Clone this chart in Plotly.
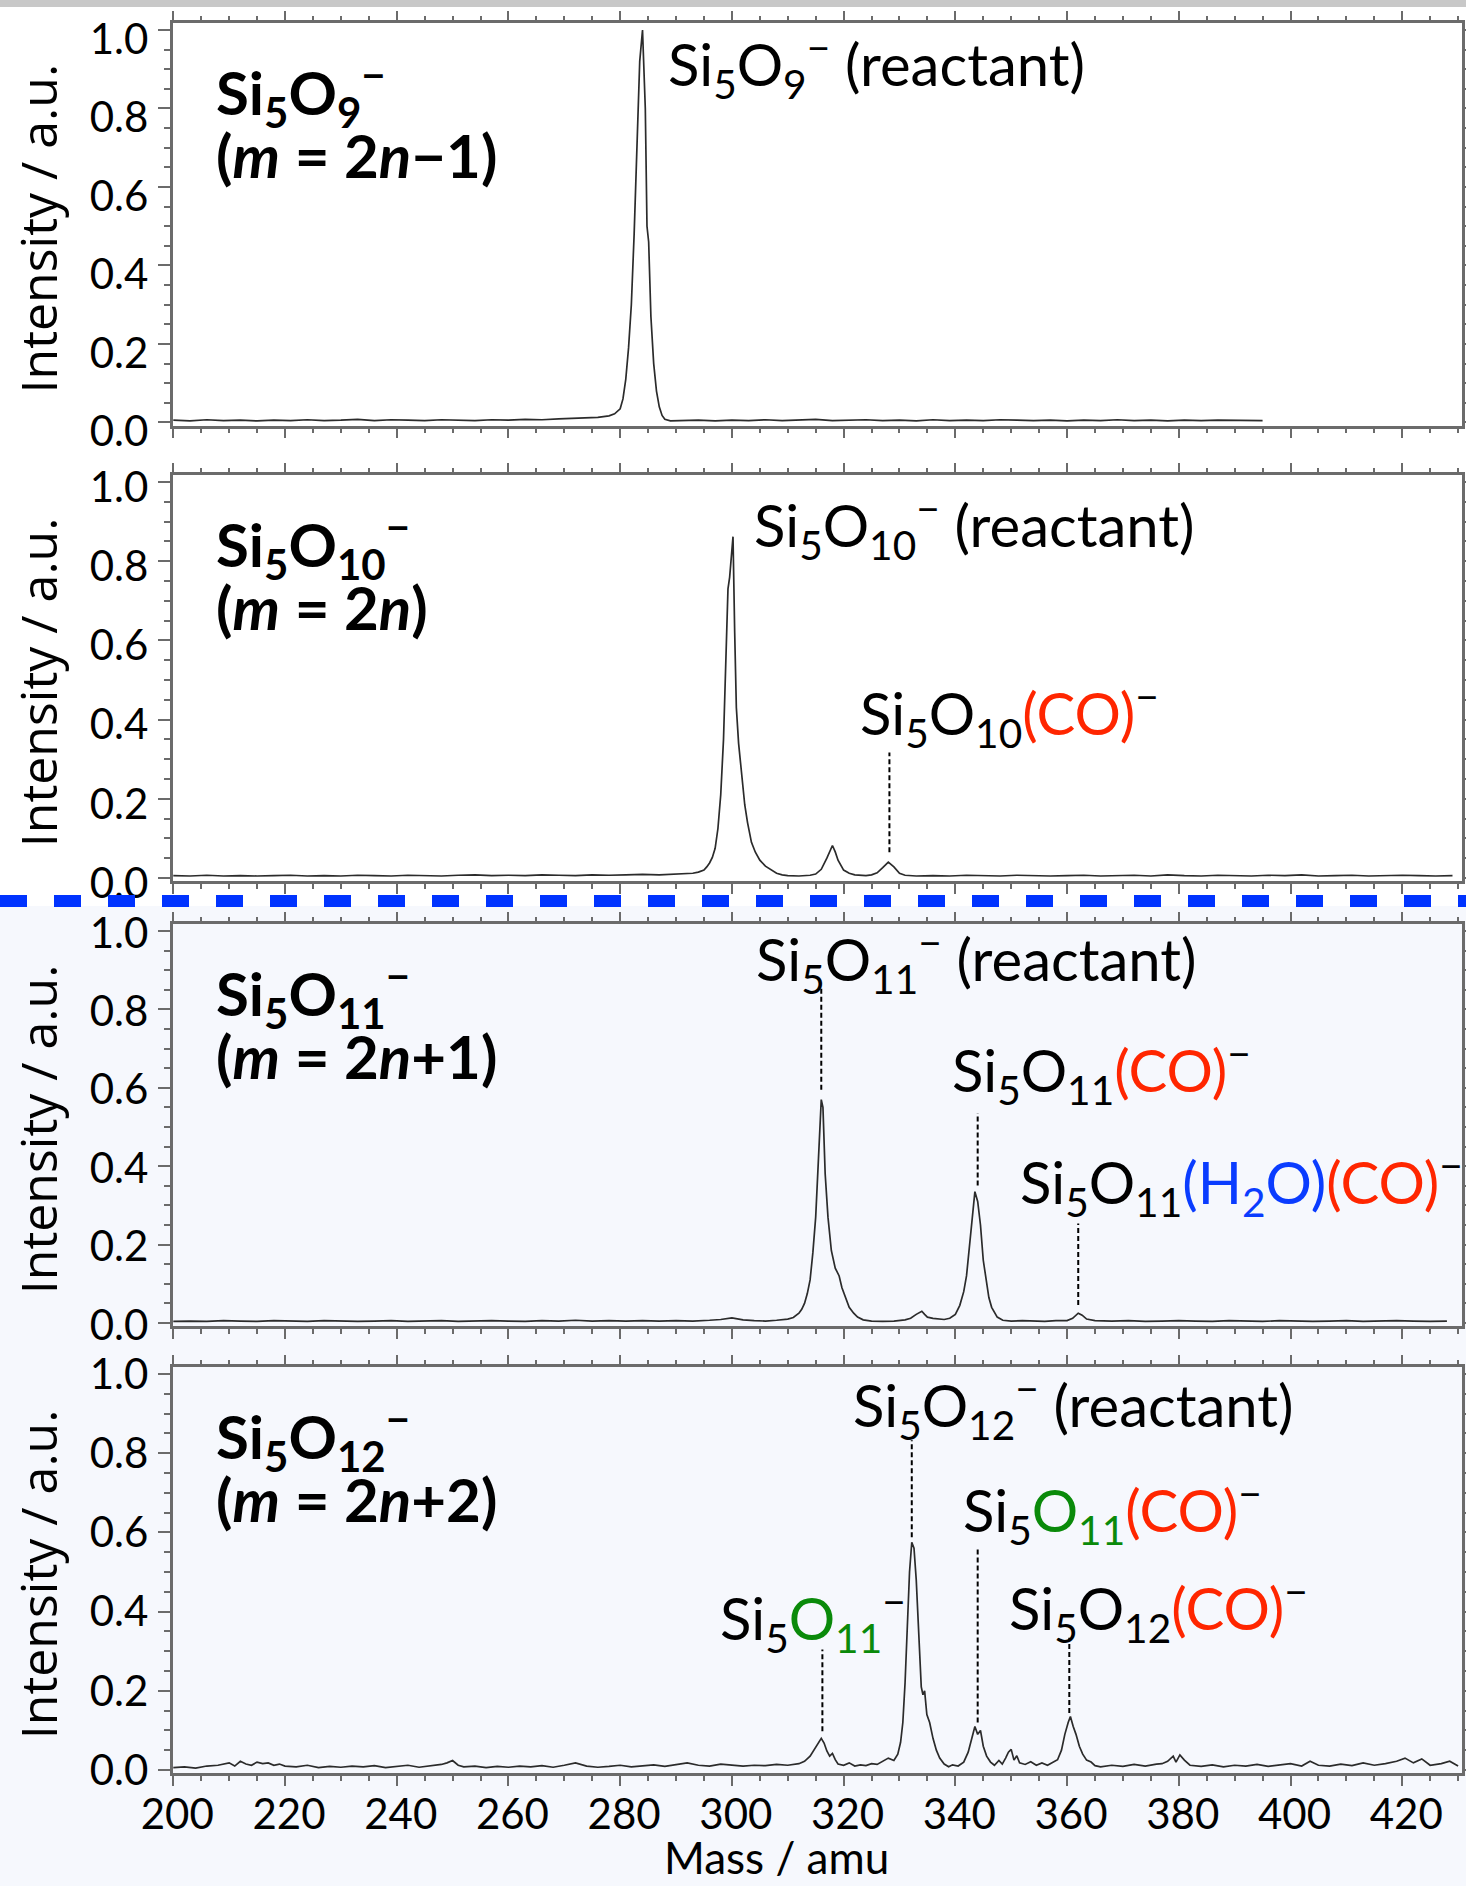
import plotly.graph_objects as go

W, H = 1466, 1886

# ---------------- data ----------------
mass_p1 = [200, 203, 206, 209, 212, 215, 218, 221, 224, 227,
           230, 233, 236, 239, 242, 245, 248, 251, 254, 257,
           260, 263, 266, 269, 272, 274, 276, 277, 278, 279,
           280, 280.5, 281, 281.5, 282, 282.5, 283, 283.5, 284, 284.5,
           284.8, 285.1, 285.5, 286, 286.5, 287, 287.5, 288, 289, 291,
           294, 297, 300, 303, 306, 309, 312, 315, 318, 321,
           324, 327, 330, 333, 336, 339, 342, 345, 348, 351,
           354, 357, 360, 363, 366, 369, 372, 375, 378, 381,
           384, 387, 390, 393, 395]
int_p1 = [0.006, 0.004, 0.007, 0.005, 0.006, 0.004, 0.006, 0.005, 0.007, 0.005,
          0.006, 0.008, 0.005, 0.007, 0.006, 0.005, 0.007, 0.006, 0.005, 0.007,
          0.006, 0.008, 0.007, 0.009, 0.010, 0.011, 0.013, 0.015, 0.017, 0.022,
          0.035, 0.060, 0.110, 0.190, 0.300, 0.480, 0.720, 0.920, 1.000, 0.800,
          0.500, 0.460, 0.270, 0.150, 0.080, 0.040, 0.018, 0.008, 0.004, 0.005,
          0.006, 0.004, 0.006, 0.005, 0.007, 0.005, 0.006, 0.008, 0.005, 0.006,
          0.007, 0.005, 0.006, 0.004, 0.007, 0.005, 0.006, 0.005, 0.007, 0.006,
          0.005, 0.006, 0.004, 0.006, 0.005, 0.007, 0.005, 0.006, 0.004, 0.006,
          0.005, 0.006, 0.005, 0.004, 0.005]

mass_p2 = [200, 203, 206, 209, 212, 215, 218, 221, 224, 227,
           230, 233, 236, 239, 242, 245, 248, 251, 254, 257,
           260, 263, 266, 269, 272, 275, 278, 281, 284, 287,
           289, 291, 293, 294, 295, 295.5, 296, 296.5, 297, 297.5,
           298, 298.5, 299, 299.3, 299.6, 300, 300.2, 300.5, 300.8, 301.2,
           301.8, 302.3, 302.8, 303.5, 304.2, 305, 306, 307, 308, 309,
           310, 312, 314, 315, 316, 317, 318, 318.5, 319, 320,
           321, 322, 324, 325, 326, 327, 328, 329, 330, 331,
           333, 336, 339, 342, 345, 348, 351, 354, 357, 360,
           363, 366, 369, 372, 375, 378, 381, 384, 387, 390,
           393, 396, 399, 402, 405, 408, 411, 414, 417, 420,
           423, 426, 429]
int_p2 = [0.006, 0.005, 0.007, 0.005, 0.006, 0.005, 0.006, 0.007, 0.005, 0.006,
          0.005, 0.007, 0.006, 0.005, 0.007, 0.006, 0.005, 0.007, 0.008, 0.006,
          0.007, 0.006, 0.008, 0.007, 0.006, 0.008, 0.007, 0.008, 0.009, 0.008,
          0.009, 0.010, 0.012, 0.015, 0.020, 0.028, 0.038, 0.052, 0.075, 0.125,
          0.210, 0.350, 0.600, 0.730, 0.760, 0.840, 0.862, 0.620, 0.430, 0.340,
          0.260, 0.185, 0.140, 0.090, 0.065, 0.045, 0.030, 0.020, 0.012, 0.008,
          0.006, 0.005, 0.007, 0.010, 0.022, 0.050, 0.082, 0.066, 0.045, 0.020,
          0.012, 0.008, 0.006, 0.008, 0.013, 0.026, 0.040, 0.028, 0.012, 0.007,
          0.005, 0.006, 0.005, 0.007, 0.006, 0.005, 0.007, 0.006, 0.005, 0.006,
          0.007, 0.005, 0.006, 0.007, 0.005, 0.008, 0.006, 0.005, 0.007, 0.006,
          0.005, 0.007, 0.006, 0.008, 0.005, 0.006, 0.007, 0.005, 0.006, 0.007,
          0.006, 0.005, 0.006]

mass_p3 = [200, 203, 206, 209, 212, 215, 218, 221, 224, 227,
           230, 233, 236, 239, 242, 245, 248, 251, 254, 257,
           260, 263, 266, 269, 272, 275, 278, 281, 284, 287,
           290, 293, 296, 298, 300, 302, 304, 306, 308, 310,
           311, 312, 312.5, 313, 313.5, 314, 314.5, 315, 315.5, 316,
           316.3, 316.7, 317.2, 317.8, 318.5, 319.2, 319.7, 320.3, 321, 321.8,
           322.5, 323.5, 325, 327, 329, 331, 332, 333, 334, 334.5,
           335, 336, 337, 338, 339, 340, 340.8, 341.5, 342, 342.5,
           343, 343.5, 344, 344.5, 345, 345.5, 346, 346.5, 347.5, 348.5,
           350, 352, 354, 356, 358, 360, 361, 362, 362.7, 363.5,
           365, 368, 371, 374, 377, 380, 383, 386, 389, 392,
           395, 398, 401, 404, 407, 410, 413, 416, 419, 422,
           425, 428]
int_p3 = [0.004, 0.005, 0.004, 0.006, 0.005, 0.004, 0.006, 0.005, 0.004, 0.006,
          0.005, 0.004, 0.005, 0.006, 0.004, 0.005, 0.006, 0.004, 0.005, 0.006,
          0.005, 0.004, 0.006, 0.005, 0.007, 0.005, 0.006, 0.005, 0.006, 0.005,
          0.006, 0.005, 0.007, 0.009, 0.013, 0.008, 0.006, 0.005, 0.007, 0.010,
          0.014, 0.025, 0.035, 0.050, 0.075, 0.110, 0.180, 0.270, 0.420, 0.570,
          0.550, 0.380, 0.270, 0.185, 0.140, 0.120, 0.090, 0.065, 0.040, 0.025,
          0.015, 0.008, 0.005, 0.004, 0.005, 0.008, 0.012, 0.022, 0.030, 0.022,
          0.015, 0.012, 0.010, 0.009, 0.012, 0.022, 0.045, 0.080, 0.120, 0.190,
          0.270, 0.335, 0.310, 0.250, 0.160, 0.110, 0.065, 0.040, 0.015, 0.007,
          0.005, 0.006, 0.005, 0.004, 0.006, 0.006, 0.012, 0.025, 0.020, 0.010,
          0.006, 0.005, 0.006, 0.004, 0.005, 0.006, 0.005, 0.004, 0.006, 0.005,
          0.004, 0.006, 0.005, 0.004, 0.005, 0.006, 0.004, 0.005, 0.006, 0.005,
          0.004, 0.005]

mass_p4 = [200, 202, 204, 206, 208, 210, 211, 212, 213, 214,
           215, 216, 217, 218, 219, 220, 222, 224, 226, 228,
           230, 232, 234, 236, 238, 240, 242, 244, 246, 248,
           249, 250, 251, 252, 254, 256, 258, 260, 262, 264,
           266, 268, 270, 272, 274, 276, 278, 280, 282, 284,
           286, 288, 290, 292, 294, 296, 298, 300, 302, 304,
           306, 308, 310, 312, 313, 314, 315, 316, 316.5, 317,
           317.5, 318, 318.5, 319, 320, 321, 322, 323, 324, 325,
           326, 327, 328, 329, 329.7, 330.2, 330.6, 331, 331.4, 331.8,
           332.2, 332.6, 333, 333.3, 333.6, 333.9, 334.2, 334.5, 334.9, 335.4,
           336, 336.6, 337.2, 338, 338.8, 339.5, 340.5, 341.5, 342.3, 343,
           343.5, 344, 344.5, 345, 345.6, 346.3, 347, 347.8, 348.4, 349,
           349.5, 350, 350.5, 351, 351.5, 352.5, 353.5, 354.5, 355.5, 356.5,
           357.5, 358.3, 359, 359.6, 360.2, 360.6, 361.1, 361.6, 362.2, 362.8,
           363.5, 364.3, 365, 366, 368, 370, 372, 374, 376, 377,
           378, 379, 379.5, 380.2, 381, 382, 384, 386, 388, 390,
           392, 394, 396, 398, 400, 402, 403.5, 405, 407, 409,
           411, 413, 415, 417, 419, 420.5, 422, 423.5, 425, 427,
           428.5, 430]
int_p4 = [0.006, 0.008, 0.005, 0.010, 0.012, 0.018, 0.010, 0.022, 0.015, 0.012,
          0.020, 0.016, 0.018, 0.012, 0.015, 0.010, 0.008, 0.012, 0.006, 0.009,
          0.007, 0.010, 0.008, 0.011, 0.006, 0.009, 0.012, 0.007, 0.010, 0.014,
          0.018, 0.024, 0.012, 0.008, 0.010, 0.006, 0.009, 0.007, 0.010, 0.008,
          0.011, 0.007, 0.012, 0.018, 0.010, 0.007, 0.009, 0.012, 0.008, 0.010,
          0.013, 0.009, 0.014, 0.018, 0.012, 0.010, 0.015, 0.013, 0.010, 0.012,
          0.011, 0.014, 0.012, 0.016, 0.022, 0.035, 0.058, 0.080, 0.068, 0.048,
          0.035, 0.042, 0.026, 0.015, 0.012, 0.018, 0.010, 0.013, 0.011, 0.016,
          0.014, 0.022, 0.030, 0.024, 0.040, 0.070, 0.120, 0.220, 0.380, 0.500,
          0.575, 0.560, 0.480, 0.400, 0.300, 0.210, 0.190, 0.200, 0.140, 0.120,
          0.080, 0.050, 0.030, 0.015, 0.008, 0.013, 0.010, 0.020, 0.045, 0.085,
          0.110, 0.090, 0.100, 0.060, 0.035, 0.020, 0.012, 0.024, 0.015, 0.030,
          0.045, 0.052, 0.025, 0.036, 0.018, 0.014, 0.021, 0.012, 0.018, 0.012,
          0.020, 0.026, 0.050, 0.090, 0.120, 0.135, 0.110, 0.090, 0.060, 0.040,
          0.025, 0.020, 0.011, 0.008, 0.012, 0.009, 0.014, 0.010, 0.015, 0.016,
          0.022, 0.035, 0.020, 0.038, 0.025, 0.012, 0.009, 0.013, 0.008, 0.012,
          0.010, 0.014, 0.009, 0.012, 0.016, 0.010, 0.022, 0.012, 0.010, 0.015,
          0.011, 0.018, 0.012, 0.016, 0.022, 0.030, 0.018, 0.028, 0.012, 0.016,
          0.022, 0.010]

for a, b in [(mass_p1, int_p1), (mass_p2, int_p2), (mass_p3, int_p3), (mass_p4, int_p4)]:
    assert len(a) == len(b), (len(a), len(b))

x_ticks = [200, 220, 240, 260, 280, 300, 320, 340, 360, 380, 400, 420]
y_ticks = [0.0, 0.2, 0.4, 0.6, 0.8, 1.0]

RED = "#FF2600"
BLUE = "#0A3CFF"
GREEN = "#0A8A0A"

def red(s):
    return "<span style='color:%s'>%s</span>" % (RED, s)

def blue(s):
    return "<span style='color:%s'>%s</span>" % (BLUE, s)

def green(s):
    return "<span style='color:%s'>%s</span>" % (GREEN, s)

MINUS = "<sup>−</sup>"

panel_titles = [
    ("<b>Si<sub>5</sub>O<sub>9</sub>" + MINUS + "</b>", "<b>(<i>m</i> = 2<i>n</i>−1)</b>"),
    ("<b>Si<sub>5</sub>O<sub>10</sub>" + MINUS + "</b>", "<b>(<i>m</i> = 2<i>n</i>)</b>"),
    ("<b>Si<sub>5</sub>O<sub>11</sub>" + MINUS + "</b>", "<b>(<i>m</i> = 2<i>n</i>+1)</b>"),
    ("<b>Si<sub>5</sub>O<sub>12</sub>" + MINUS + "</b>", "<b>(<i>m</i> = 2<i>n</i>+2)</b>"),
]

# peak labels: (panel, text, x_left [amu], y_center [intensity])
peak_labels = [
    (0, "Si<sub>5</sub>O<sub>9</sub>" + MINUS + " (reactant)", 288.2, 0.91),
    (1, "Si<sub>5</sub>O<sub>10</sub>" + MINUS + " (reactant)", 303.6, 0.89),
    (1, "Si<sub>5</sub>O<sub>10</sub>" + red("(CO)") + MINUS, 322.6, 0.414),
    (2, "Si<sub>5</sub>O<sub>11</sub>" + MINUS + " (reactant)", 304.0, 0.925),
    (2, "Si<sub>5</sub>O<sub>11</sub>" + red("(CO)") + MINUS, 339.0, 0.642),
    (2, "Si<sub>5</sub>O<sub>11</sub>" + blue("(H<sub>2</sub>O)") + red("(CO)") + MINUS, 351.3, 0.358),
    (3, "Si<sub>5</sub>O<sub>12</sub>" + MINUS + " (reactant)", 321.3, 0.92),
    (3, "Si<sub>5</sub>" + green("O<sub>11</sub>") + red("(CO)") + MINUS, 341.0, 0.655),
    (3, "Si<sub>5</sub>O<sub>12</sub>" + red("(CO)") + MINUS, 349.3, 0.407),
    (3, "Si<sub>5</sub>" + green("O<sub>11</sub>") + MINUS, 297.6, 0.382),
]

# dotted leader lines: (panel, mass, y_low, y_high)
leaders = [
    (1, 328.2, 0.065, 0.317),
    (2, 316.0, 0.595, 0.855),
    (2, 344.0, 0.351, 0.535),
    (2, 362.0, 0.046, 0.254),
    (3, 332.2, 0.588, 0.833),
    (3, 344.0, 0.120, 0.558),
    (3, 360.4, 0.144, 0.334),
    (3, 316.2, 0.098, 0.304),
]

# ---------------- layout geometry (pixels) ----------------
X_LEFT, X_RIGHT = 172.5, 1462.0
X_RANGE = [199.86, 430.7]
Y_RANGE = [-0.008, 1.017]
# pixel row of intensity 0.0 and 1.0 for each panel
panel_px = [(422.5, 30), (878, 482), (1323, 931), (1770, 1374)]
# vertical offset of the tick labels in each panel (pixels, downwards)
label_shift = [9, 5, 2, 0]

def ydomain(y0, y1):
    u = y0 - y1
    top = y0 - Y_RANGE[1] * u
    bot = y0 - Y_RANGE[0] * u
    return [1 - bot / H, 1 - top / H], top, bot

FONT = "Lato, 'Liberation Sans', Arial, sans-serif"
TITLE_FONT = "'Open Sans', 'Noto Sans', sans-serif"
FRAME = "#6b6b6b"

fig = go.Figure()
data = [(mass_p1, int_p1), (mass_p2, int_p2), (mass_p3, int_p3), (mass_p4, int_p4)]
for k, (m, v) in enumerate(data):
    sfx = "" if k == 0 else str(k + 1)
    fig.add_trace(go.Scatter(x=m, y=v, mode="lines",
                             line=dict(color="#2b2b2b", width=1.7),
                             xaxis="x" + sfx, yaxis="y" + sfx,
                             showlegend=False, hoverinfo="skip"))

layout = dict(width=W, height=H, margin=dict(l=0, r=0, t=0, b=0, pad=0),
              autosize=False,
              paper_bgcolor="white", plot_bgcolor="rgba(0,0,0,0)",
              showlegend=False, font=dict(family=FONT, color="black"))

annotations = []
shapes = []

# background: tinted lower half, grey bar on top, blue dashed divider
shapes.append(dict(type="rect", xref="paper", yref="paper", x0=0, x1=1,
                   y0=0, y1=1 - 906 / H, fillcolor="#F6F8FD", line=dict(width=0),
                   layer="below"))
shapes.append(dict(type="rect", xref="paper", yref="paper", x0=0, x1=1,
                   y0=1 - 7 / H, y1=1, fillcolor="#C8C8C8", line=dict(width=0),
                   layer="below"))
shapes.append(dict(type="line", xref="paper", yref="paper", x0=0, x1=1,
                   y0=1 - 901 / H, y1=1 - 901 / H,
                   line=dict(color="#0033FF", width=12, dash="27px,27px"),
                   layer="above"))

for k, (y0, y1) in enumerate(panel_px):
    sfx = "" if k == 0 else str(k + 1)
    dom, top, bot = ydomain(y0, y1)
    layout["xaxis" + sfx] = dict(
        domain=[X_LEFT / W, X_RIGHT / W], range=X_RANGE, anchor="y" + sfx,
        automargin=False,
        tickmode="array", tickvals=x_ticks, ticktext=[str(t) for t in x_ticks],
        showticklabels=(k == 3), ticks="outside", ticklen=10, tickwidth=2,
        tickcolor=FRAME, showline=True, linecolor=FRAME, linewidth=2.5,
        mirror="ticks", showgrid=False, zeroline=False,
        tickfont=dict(family=FONT, size=42, color="black"),
        ticklabelshift=4, ticklabelstandoff=-7, ticklabeloverflow="allow",
        minor=dict(dtick=5, tick0=200, ticks="outside", ticklen=5,
                   tickwidth=1.5, tickcolor=FRAME, showgrid=False),
    )
    layout["yaxis" + sfx] = dict(
        domain=dom, range=Y_RANGE, anchor="x" + sfx,
        automargin=False,
        tickmode="array", tickvals=y_ticks, ticktext=["%.1f" % t for t in y_ticks],
        ticks="outside", ticklen=12, tickwidth=2, tickcolor=FRAME,
        showline=True, linecolor=FRAME, linewidth=2.5, mirror="ticks",
        showgrid=False, zeroline=False,
        tickfont=dict(family=FONT, size=42, color="black"),
        ticklabelshift=label_shift[k], ticklabelstandoff=1, ticklabeloverflow="allow",
        minor=dict(dtick=0.05, tick0=0, ticks="outside", ticklen=6,
                   tickwidth=1.5, tickcolor=FRAME, showgrid=False),
    )
    # y axis title (rotated)
    yc = (top + bot) / 2 + 4
    annotations.append(dict(text="Intensity / a.u.", xref="paper", yref="paper",
                            x=38 / W, y=1 - yc / H, xanchor="center", yanchor="middle",
                            textangle=-90, showarrow=False,
                            font=dict(family=TITLE_FONT, size=50, color="black")))
    # panel title, two lines
    l1, l2 = panel_titles[k]
    u = y0 - y1
    for txt, ypx in [(l1, top + 70), (l2, top + 132)]:
        annotations.append(dict(text=txt, xref="x" + sfx, yref="y" + sfx,
                                x=207.3, y=(y0 - ypx) / u, xanchor="left", yanchor="middle",
                                showarrow=False,
                                font=dict(family=FONT, size=60, color="black")))

for (k, txt, xl, yc) in peak_labels:
    sfx = "" if k == 0 else str(k + 1)
    annotations.append(dict(text=txt, xref="x" + sfx, yref="y" + sfx,
                            x=xl, y=yc, xanchor="left", yanchor="middle",
                            showarrow=False,
                            font=dict(family=FONT, size=58, color="black")))

for (k, xm, ylo, yhi) in leaders:
    sfx = "" if k == 0 else str(k + 1)
    shapes.append(dict(type="line", xref="x" + sfx, yref="y" + sfx,
                       x0=xm, x1=xm, y0=ylo, y1=yhi,
                       line=dict(color="black", width=2, dash="5px,3px")))

annotations.append(dict(text="Mass / amu", xref="paper", yref="paper",
                        x=776 / W, y=1 - 1857 / H, xanchor="center", yanchor="middle",
                        showarrow=False, font=dict(family=FONT, size=44, color="black")))

layout["annotations"] = annotations
layout["shapes"] = shapes
fig.update_layout(**layout)
fig.write_html("out.html")
